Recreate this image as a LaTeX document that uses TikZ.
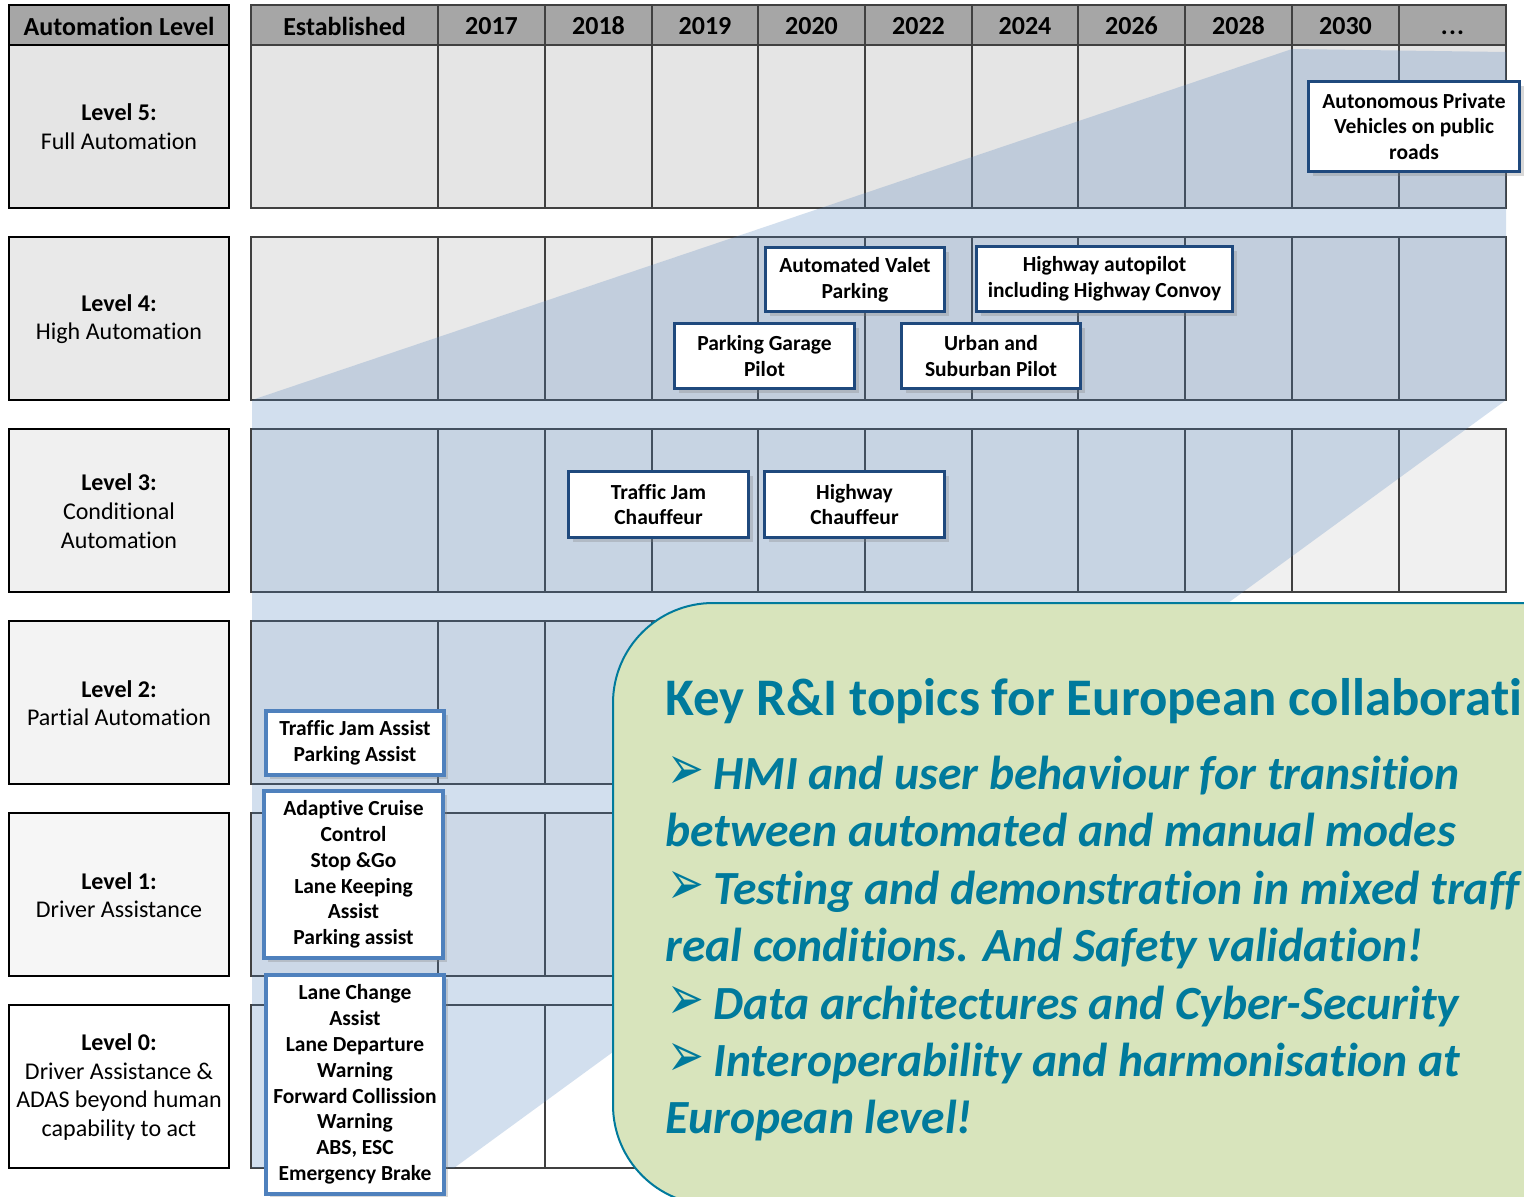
\documentclass[tikz,border=0pt]{standalone}
\usepackage{fontspec}
\usepackage{graphicx}
\setmainfont{Carlito}[Ligatures=NoCommon]
\newfontfamily\dejavu{DejaVu Sans}
\usetikzlibrary{shadows}
\definecolor{hdrgray}{HTML}{A6A6A6}
\definecolor{gridline}{HTML}{404040}
\definecolor{overlayblue}{RGB}{79,129,189}
\definecolor{darkblue}{RGB}{31,73,125}
\definecolor{lightblue}{RGB}{79,129,189}
\definecolor{keyteal}{RGB}{0,122,156}
\definecolor{keygreen}{RGB}{216,228,188}
\definecolor{rowfive}{HTML}{E5E5E5}
\definecolor{rowfour}{HTML}{E9E9E9}
\definecolor{rowthree}{HTML}{F0F0F0}
\definecolor{rowtwo}{HTML}{F3F3F3}
\definecolor{rowone}{HTML}{F6F6F6}
\definecolor{rowzero}{HTML}{FFFFFF}
\newcommand{\keyarrow}{\scalebox{1.1}[1.55]{\dejavu ➢}}
\begin{document}
\begin{tikzpicture}[x=0.5pt,y=-0.5pt,
  hdr/.style={font=\bfseries\fontsize{13}{15.6}\selectfont, inner sep=0pt},
  lvl/.style={align=center, font=\fontsize{12}{14.35}\selectfont, inner sep=0pt},
  labbox/.style={draw=black, line width=1.4pt},
  gridln/.style={draw=gridline, line width=0.55pt},
  techbox/.style={draw=darkblue, line width=1.7pt, fill=white, align=center, inner sep=0pt,
    font=\bfseries\fontsize{10.75}{12.9}\selectfont,
    drop shadow={shadow xshift=2pt, shadow yshift=-2pt, opacity=0.3}},
  techboxlight/.style={techbox, draw=lightblue, line width=2pt},
  keytitle/.style={font=\bfseries\fontsize{26.4}{30}\selectfont, text=keyteal, anchor=base west, inner sep=0pt},
  keyline/.style={font=\bfseries\itshape\fontsize{23.8}{28}\selectfont, text=keyteal, anchor=base west, inner sep=0pt},
  keybullet/.style={font=\fontsize{20}{24}\selectfont, text=keyteal, anchor=base west, inner sep=0pt}
]
\useasboundingbox (0,0) rectangle (1524,1196);
\clip (0,0) rectangle (1524,1196);
\fill[white] (0,0) rectangle (1524,1196);

% ---- table body rows
\foreach \T/\C in {45/rowfive,237/rowfour,429/rowthree,621/rowtwo,813/rowone,1005/rowzero}{
  \fill[\C] (251,\T) rectangle (1506,\T+163);
}
\foreach \T in {45,237,429,621,813,1005}{
  \draw[gridln] (251,\T) rectangle (1506,\T+163);
  \foreach \X in {438,545,652,758,865,972,1078,1185,1292,1399}
    \draw[gridln] (\X,\T) -- (\X,\T+163);
}
% ---- table header
\fill[hdrgray] (251,5) rectangle (1506,45);
\draw[gridln] (251,5) rectangle (1506,45);
\foreach \X in {438,545,652,758,865,972,1078,1185,1292,1399}
  \draw[gridln] (\X,5) -- (\X,45);
\foreach \X/\L/\N in {344.5/Established/hEst,491.5/2017/hA,598.5/2018/hB,705/2019/hC,811.5/2020/hD,918.5/2022/hE,1025/2024/hF,1131.5/2026/hG,1238.5/2028/hH,1345.5/2030/hI}
  \node[hdr] (\N) at (\X,26) {\L};
\node[hdr] (hJ) at (1452.5,26) {\vphantom{2}.\kern0.6pt.\kern0.6pt.};

% ---- blue overlay wedge
\fill[overlayblue, opacity=0.25] (252,400) -- (1292,49) -- (1506,52) -- (1506,400) -- (454,1168) -- (252,1168) -- cycle;

% ---- level label column
\fill[hdrgray] (9,5) rectangle (229,45);
\fill[rowfive] (9,45) rectangle (229,208);
\draw[labbox] (9,5) rectangle (229,208);
\draw[labbox] (9,45) -- (229,45);
\node[hdr] (hAuto) at (119,26) {Automation Level};
\foreach \T/\C in {237/rowfour,429/rowthree,621/rowtwo,813/rowone,1005/rowzero}{
  \fill[\C] (9,\T) rectangle (229,\T+163);
  \draw[labbox] (9,\T) rectangle (229,\T+163);
}
\node[lvl] (lv5) at (119,127) {\textbf{Level 5:}\\Full Automation};
\node[lvl] (lv4) at (119,319) {\textbf{Level 4:}\\High Automation};
\node[lvl] (lv3) at (119,511) {\textbf{Level 3:}\\Conditional\\Automation};
\node[lvl] (lv2) at (119,703) {\textbf{Level 2:}\\Partial Automation};
\node[lvl] (lv1) at (119,895) {\textbf{Level 1:}\\Driver Assistance};
\node[lvl] (lv0) at (119,1087) {\textbf{Level 0:}\\Driver Assistance \&\\ADAS beyond human\\capability to act};

% ---- technology boxes
\node[techbox, minimum width=105.5pt, minimum height=45pt] (autopriv) at (1414,126.5) {Autonomous Private\\Vehicles on public\\roads};
\node[techbox, minimum width=89.5pt, minimum height=32pt] (valet) at (855,279.5) {Automated Valet\\Parking};
\node[techbox, minimum width=128pt, minimum height=32.5pt] (hwauto) at (1104.5,279) {Highway autopilot\\including Highway Convoy};
\node[techbox, minimum width=90pt, minimum height=32.5pt] (garage) at (764.5,356) {Parking Garage\\Pilot};
\node[techbox, minimum width=89.5pt, minimum height=32.5pt] (urban) at (991,356) {Urban and\\Suburban Pilot};
\node[techbox, minimum width=90pt, minimum height=33pt] (tjchauf) at (658.5,504.5) {Traffic Jam\\Chauffeur};
\node[techbox, minimum width=90pt, minimum height=33pt] (hwchauf) at (854.5,504.5) {Highway\\Chauffeur};
\node[techboxlight, minimum width=89pt, minimum height=32pt] (tjassist) at (355,743) {Traffic Jam Assist\\Parking Assist};
\node[techboxlight, minimum width=89.5pt, minimum height=83.5pt] (acc) at (353.5,874.5) {Adaptive Cruise\\Control\\Stop \&Go\\Lane Keeping\\Assist\\Parking assist};
\node[techboxlight, minimum width=89pt, minimum height=109.5pt] (lanechg) at (355,1084.5) {Lane Change\\Assist\\Lane Departure\\Warning\\Forward Collission\\Warning\\ABS, ESC\\Emergency Brake};

% ---- key R&I topics panel
\draw[draw=keyteal, line width=1pt, fill=keygreen, rounded corners=50pt] (613,603) rectangle (1640,1205);
\node[keytitle] (ktitle) at (665,715) {Key R\&I topics for European collaborati};
\node[keybullet] (kb1) at (667,789) {\keyarrow};
\node[keyline] (k1) at (713,789) {HMI and user behaviour for transition};
\node[keyline] (k2) at (665,846) {between automated and manual modes};
\node[keybullet] (kb3) at (667,904) {\keyarrow};
\node[keyline] (k3) at (713,904) {Testing and demonstration in mixed traff};
\node[keyline] (k4) at (665,961) {real conditions. And Safety validation!};
\node[keybullet] (kb5) at (667,1019) {\keyarrow};
\node[keyline] (k5) at (713,1019) {Data architectures and Cyber-Security};
\node[keybullet] (kb6) at (667,1076) {\keyarrow};
\node[keyline] (k6) at (713,1076) {Interoperability and harmonisation at};
\node[keyline] (k7) at (665,1133) {European level!};
\end{tikzpicture}
\end{document}
